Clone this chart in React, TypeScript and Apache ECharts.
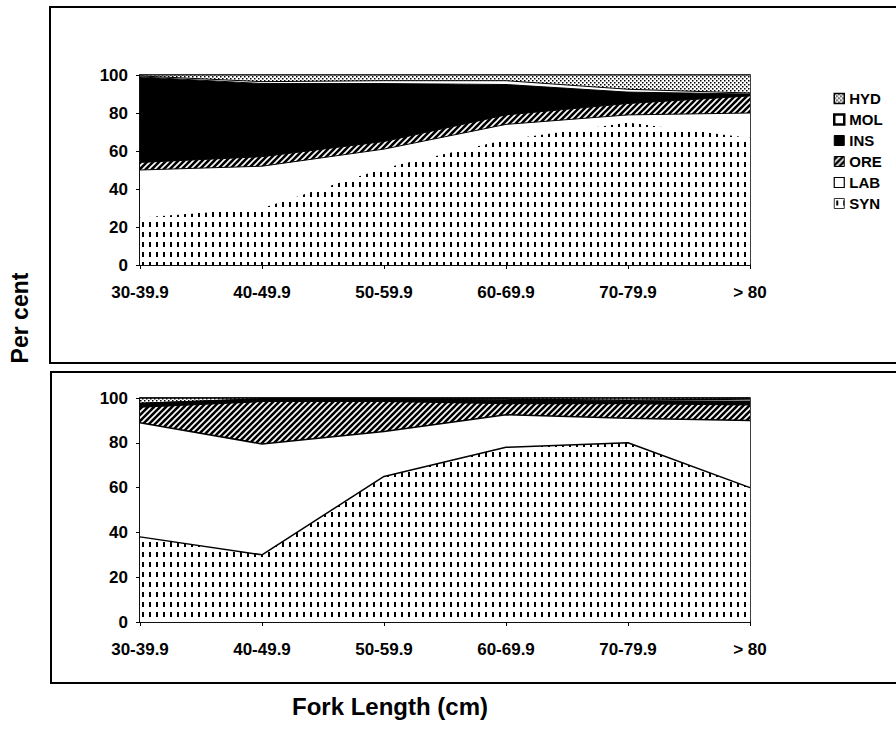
import React, { useEffect, useRef } from "react";
import * as echarts from "echarts";

const categories = ["30-39.9", "40-49.9", "50-59.9", "60-69.9", "70-79.9", "> 80"];
const yTicks = [0, 20, 40, 60, 80, 100];

// Upper panel (percent of each prey group, stacked from bottom)
const synTop = [25, 30, 51, 66, 75, 67];
const labTop = [25, 22, 10, 8, 4, 13];
const oreTop = [4, 5, 4, 5, 6, 9];
const insTop = [45, 38.5, 30.5, 16, 6, 1];
const molTop = [0.5, 1, 1.5, 2, 1.5, 0.5];
const hydTop = [0.5, 3.5, 3, 3, 7.5, 9.5];

// Lower panel
const synBot = [38, 30, 65, 78, 80, 60];
const labBot = [51, 49.5, 20, 14.5, 11, 30];
const oreBot = [7, 19, 13.5, 5, 6.5, 7];
const insBot = [1.5, 1, 1, 1.5, 1, 1.5];
const molBot = [0, 0, 0, 0.5, 0.5, 1];
const hydBot = [2.5, 0.5, 0.5, 0.5, 1, 0.5];

const legendNames = ["HYD", "MOL", "INS", "ORE", "LAB", "SYN"];

const FONT = '"Liberation Sans", Arial, Helvetica, sans-serif';

function makePattern(w: number, h: number, draw: (c: CanvasRenderingContext2D) => void) {
  const cv = document.createElement("canvas");
  cv.width = w;
  cv.height = h;
  const ctx = cv.getContext("2d")!;
  draw(ctx);
  return { image: cv.toDataURL(), repeat: "repeat", imageWidth: w, imageHeight: h } as any;
}

export default function App() {
  const ref = useRef<HTMLDivElement>(null);

  useEffect(() => {
    if (!ref.current) return;
    document.body.style.margin = "0";
    const chart = echarts.init(ref.current, null, { renderer: "svg" });

    const synPat = makePattern(7, 10, (c) => {
      c.fillStyle = "#fff";
      c.fillRect(0, 0, 7, 10);
      c.fillStyle = "#000";
      c.fillRect(2, 2, 2, 5);
    });
    const orePat = makePattern(6, 6, (c) => {
      c.fillStyle = "#000";
      c.fillRect(0, 0, 6, 6);
      c.strokeStyle = "#fff";
      c.lineWidth = 1.6;
      c.beginPath();
      c.moveTo(-1, 7);
      c.lineTo(7, -1);
      c.moveTo(-1, 1);
      c.lineTo(1, -1);
      c.moveTo(5, 7);
      c.lineTo(7, 5);
      c.stroke();
    });
    const hydPat = makePattern(4, 4, (c) => {
      c.fillStyle = "#fff";
      c.fillRect(0, 0, 4, 4);
      c.fillStyle = "#000";
      c.fillRect(0, 0, 1.5, 1.5);
      c.fillRect(2, 2, 1.5, 1.5);
    });

    const fills: Record<string, any> = {
      SYN: synPat,
      LAB: "#ffffff",
      ORE: orePat,
      INS: "#000000",
      MOL: "#ffffff",
      HYD: hydPat,
    };

    const topData: Record<string, number[]> = {
      SYN: synTop, LAB: labTop, ORE: oreTop, INS: insTop, MOL: molTop, HYD: hydTop,
    };
    const botData: Record<string, number[]> = {
      SYN: synBot, LAB: labBot, ORE: oreBot, INS: insBot, MOL: molBot, HYD: hydBot,
    };
    const order = ["SYN", "LAB", "ORE", "INS", "MOL", "HYD"];

    const mkSeries = (data: Record<string, number[]>, idx: number) =>
      order.map((name) => ({
        name,
        type: "line",
        xAxisIndex: idx,
        yAxisIndex: idx,
        stack: idx === 0 ? "upper" : "lower",
        data: data[name],
        symbol: "none",
        color: "#000",
        lineStyle: {
          color: "#000",
          width: idx === 0 && name === "SYN" ? 0 : idx === 1 ? 1.5 : 1,
        },
        areaStyle: { color: fills[name], opacity: 1 },
      }));

    const axisLabelStyle = {
      color: "#000",
      fontFamily: FONT,
      fontWeight: "bold",
      fontSize: 17,
    };

    const mkX = (gi: number) => ({
      type: "category",
      gridIndex: gi,
      data: categories,
      boundaryGap: false,
      axisLine: { show: true, lineStyle: { color: "#000", width: 1.5 } },
      axisTick: { show: true, length: 4, lineStyle: { color: "#000" } },
      axisLabel: { ...axisLabelStyle, margin: 19 },
      splitLine: { show: false },
    });
    const mkY = (gi: number) => ({
      type: "value",
      gridIndex: gi,
      min: yTicks[0],
      max: yTicks[yTicks.length - 1],
      interval: 20,
      axisLine: { show: true, lineStyle: { color: "#000", width: 1.5 } },
      axisTick: { show: true, length: 4, lineStyle: { color: "#000" } },
      axisLabel: { ...axisLabelStyle, margin: 12 },
      splitLine: { show: false },
    });

    const legendItemStyle: Record<string, any> = {
      HYD: { color: hydPat, borderColor: "#000", borderWidth: 1.5 },
      MOL: { color: "#fff", borderColor: "#000", borderWidth: 2.5 },
      INS: { color: "#000", borderColor: "#000", borderWidth: 1 },
      ORE: { color: orePat, borderColor: "#000", borderWidth: 1 },
      LAB: { color: "#fff", borderColor: "#000", borderWidth: 1.2 },
      SYN: { color: synPat, borderColor: "#000", borderWidth: 0.8 },
    };

    chart.setOption({
      animation: false,
      backgroundColor: "#fff",
      textStyle: { fontFamily: FONT },
      legend: {
        orient: "vertical",
        left: 828,
        top: 86,
        itemWidth: 10,
        itemHeight: 10,
        itemGap: 6,
        icon: "rect",
        selectedMode: false,
        textStyle: {
          color: "#000",
          fontFamily: FONT,
          fontWeight: "bold",
          fontSize: 15,
          lineHeight: 14,
        },
        data: legendNames.map((n) => ({ name: n, icon: "rect", itemStyle: legendItemStyle[n] })),
      },
      grid: [
        { left: 140, top: 75, width: 610, height: 190, show: true, borderColor: "#000", borderWidth: 1.5, backgroundColor: "transparent" },
        { left: 140, top: 398, width: 610, height: 224, show: true, borderColor: "#000", borderWidth: 1.5, backgroundColor: "transparent" },
      ],
      xAxis: [mkX(0), mkX(1)],
      yAxis: [mkY(0), mkY(1)],
      series: [...mkSeries(topData, 0), ...mkSeries(botData, 1)],
      graphic: [
        {
          type: "rect",
          shape: { x: 50, y: 7, width: 900, height: 356 },
          style: { fill: "none", stroke: "#000", lineWidth: 2 },
          silent: true,
        },
        {
          type: "rect",
          shape: { x: 51, y: 372, width: 900, height: 311 },
          style: { fill: "none", stroke: "#000", lineWidth: 2 },
          silent: true,
        },
        {
          type: "text",
          x: 20,
          y: 318,
          rotation: Math.PI / 2,
          style: {
            text: "Per cent",
            fill: "#000",
            font: `bold 23px ${FONT}`,
            textAlign: "center",
            textVerticalAlign: "middle",
          },
        },
        {
          type: "text",
          x: 390,
          y: 706,
          style: {
            text: "Fork Length (cm)",
            fill: "#000",
            font: `bold 24px ${FONT}`,
            textAlign: "center",
            textVerticalAlign: "middle",
          },
        },
      ],
    } as any);

    return () => chart.dispose();
  }, []);

  return (
    <div
      ref={ref}
      style={{ position: "fixed", left: 0, top: 0, width: 896, height: 743, background: "#fff" }}
    />
  );
}
